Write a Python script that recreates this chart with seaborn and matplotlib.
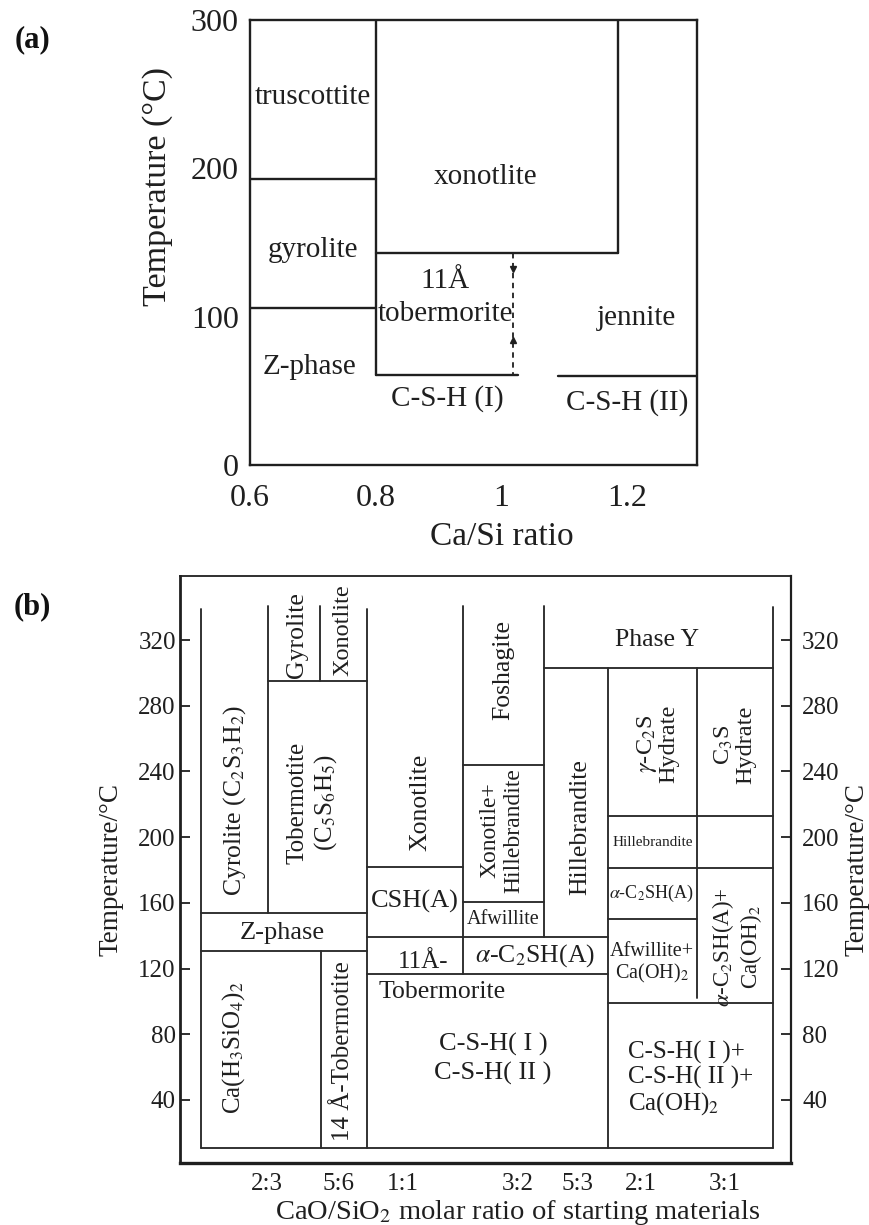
import numpy as np
import pandas as pd
import matplotlib
matplotlib.use("Agg")
import matplotlib.pyplot as plt
import seaborn as sns

sns.set_theme(style="white")
plt.rcParams["font.family"] = ["Liberation Serif", "DejaVu Serif"]
plt.rcParams["mathtext.fontset"] = "stix"
INK = "#1f1f1f"

# ---------------- (a) Ca/Si ratio vs temperature ----------------
a_xticks = [0.6, 0.8, 1.0, 1.2]
a_xticklabels = ["0.6", "0.8", "1", "1.2"]
a_yticks = [0, 100, 200, 300]

# phase boundaries: segment from (x0, T0) to (x1, T1)
a_x0 = [0.800, 0.600, 0.600, 0.800, 1.185, 0.800, 1.089]
a_x1 = [0.800, 0.800, 0.800, 1.185, 1.185, 1.026, 1.310]
a_t0 = [300, 193, 106, 143, 143, 61, 60]
a_t1 = [61, 193, 106, 143, 300, 61, 60]
# uncertain tobermorite / jennite boundary
a_dash_x = [1.018, 1.018]
a_dash_t = [143, 61]

a_names = ["truscottite", "xonotlite", "gyrolite", "11Å\ntobermorite",
           "jennite", "Z-phase", "C-S-H (I)", "C-S-H (II)"]
a_name_x = [0.700, 0.975, 0.700, 0.910, 1.215, 0.695, 0.913, 1.200]
a_name_t = [248, 194, 145, 113, 99, 66, 45, 42]

# ---------------- (b) CaO/SiO2 molar ratio vs temperature ----------------
b_tick_pos = [14.2, 25.9, 36.4, 55.3, 65.1, 75.5, 89.2]
b_tick_labels = ["2:3", "5:6", "1:1", "3:2", "5:3", "2:1", "3:1"]
b_yticks = [40, 80, 120, 160, 200, 240, 280, 320]

# vertical boundaries: x, T_bottom, T_top
b_vx = [3.44, 14.45, 22.9, 30.6, 46.3, 59.5, 70.1, 84.6, 97.1, 23.0]
b_vlo = [10.8, 153.8, 295, 10.8, 116.7, 139, 10.8, 102, 10.8, 10.8]
b_vhi = [339, 341, 341, 339, 341, 341, 303, 303, 340, 130.9]
# horizontal boundaries: T, x_left, x_right
b_ht = [295, 182, 153.8, 130.9, 139, 116.7, 160.7, 243.9, 303, 212.8,
        181.4, 150, 98.8, 10.8]
b_hx0 = [14.45, 30.6, 3.44, 3.44, 30.6, 30.6, 46.3, 46.3, 59.5, 70.1,
         70.1, 70.1, 70.1, 3.44]
b_hx1 = [30.6, 46.3, 30.6, 30.6, 70.1, 70.1, 59.5, 59.5, 97.1, 97.1,
         97.1, 84.6, 97.1, 97.1]

b_names = [
    "Cyrolite (C$_2$S$_3$H$_2$)",
    "Tobermotite\n(C$_5$S$_6$H$_5$)",
    "Gyrolite",
    "Xonotlite",
    "Xonotlite",
    "CSH(A)",
    "Z-phase",
    "11Å-",
    "Tobermorite",
    "Ca(H$_3$SiO$_4$)$_2$",
    "14 Å-Tobermotite",
    "C-S-H( I )\nC-S-H( II )",
    "Foshagite",
    "Xonotile+\nHillebrandite",
    "Afwillite",
    r"$\alpha$-C$_2$SH(A)",
    "Hillebrandite",
    "Phase Y",
    r"$\gamma$-C$_2$S" + "\nHydrate",
    "C$_3$S\nHydrate",
    "Hillebrandite",
    r"$\alpha$-C$_2$SH(A)",
    "Afwillite+\nCa(OH)$_2$",
    r"$\alpha$-C$_2$SH(A)+" + "\nCa(OH)$_2$",
    "C-S-H( I )+\nC-S-H( II )+\nCa(OH)$_2$",
]
b_name_x = [9.0, 21.7, 19.1, 26.7, 39.3, 38.5, 16.8, 39.8, 42.9, 8.7, 26.7,
            51.2, 52.9, 52.7, 52.9, 58.1, 65.5, 78.0, 78.1, 90.7, 77.4, 77.2,
            77.2, 91.2, 83.5]
b_name_t = [222, 221, 323, 326, 221, 160.7, 141.6, 124, 106, 72, 70,
            65, 301.7, 204, 149.6, 128, 206, 320, 257, 256, 197, 166,
            123, 133, 52.7]
# text styling: (rotation, size, linespacing, multialignment)
b_style = [
    (90, 18.5, 1.2, "center"), (90, 18, 1.2, "center"), (90, 18.5, 1.2, "center"),
    (90, 17.5, 1.2, "center"), (90, 18.5, 1.2, "center"), (0, 19, 1.2, "center"),
    (0, 19, 1.2, "center"), (0, 18, 1.2, "center"), (0, 18.5, 1.2, "center"),
    (90, 18, 1.2, "center"), (90, 18, 1.2, "center"), (0, 19, 1.3, "center"),
    (90, 18.5, 1.2, "center"), (90, 17, 1.15, "center"), (0, 14.5, 1.2, "center"),
    (0, 18.5, 1.2, "center"), (90, 18.5, 1.2, "center"), (0, 18.5, 1.2, "center"),
    (90, 17.5, 1.0, "center"), (90, 17.5, 1.0, "center"), (0, 11, 1.2, "center"),
    (0, 13, 1.2, "center"), (0, 14.5, 1.05, "center"), (90, 16.5, 1.1, "center"),
    (0, 18, 1.1, "left"),
]


def segments(x0, x1, t0, t1):
    rows = []
    for i, (a, b, c, d) in enumerate(zip(x0, x1, t0, t1)):
        rows.append((i, a, c))
        rows.append((i, b, d))
    return pd.DataFrame(rows, columns=["seg", "x", "T"])


fig = plt.figure(figsize=(8.69, 12.25), dpi=100)

# ======================= panel (a) =======================
axa = fig.add_axes([250 / 869, 1 - 465 / 1225, 446.7 / 869, 445 / 1225])
seg_a = segments(a_x0, a_x1, a_t0, a_t1)
sns.lineplot(data=seg_a, x="x", y="T", units="seg", estimator=None, sort=False,
             color=INK, lw=1.7, ax=axa, legend=False)
dash_a = pd.DataFrame({"x": a_dash_x, "T": a_dash_t})
sns.lineplot(data=dash_a, x="x", y="T", estimator=None, sort=False,
             color=INK, lw=1.3, ls=(0, (3, 2.5)), ax=axa, legend=False)
axa.plot([a_dash_x[0]], [a_dash_t[0] - 11], marker="v", ms=4, color=INK)
axa.plot([a_dash_x[1]], [a_dash_t[1] + 23], marker="^", ms=4, color=INK)

axa.set_xlim(0.6, 1.31)
axa.set_ylim(0, 300)
axa.set_xticks(a_xticks)
axa.set_xticklabels(a_xticklabels)
axa.set_yticks(a_yticks)
axa.tick_params(direction="inout", length=8, width=1.3, labelsize=23,
                colors=INK)
axa.tick_params(axis="x", pad=10)
axa.tick_params(axis="y", pad=4)
for s in axa.spines.values():
    s.set_color(INK)
    s.set_linewidth(1.7)
axa.set_xlabel("Ca/Si ratio", fontsize=24, color=INK)
axa.set_ylabel("Temperature (°C)", fontsize=24.5, color=INK)
axa.xaxis.set_label_coords(0.564, -0.128)
axa.yaxis.set_label_coords(-0.172, 0.625)
for name, x, t in zip(a_names, a_name_x, a_name_t):
    axa.text(x, t, name, ha="center", va="center", fontsize=21, color=INK,
             linespacing=1.35)

# ======================= panel (b) =======================
axb = fig.add_axes([180 / 869, 1 - 1163 / 1225, 611 / 869, 587 / 1225])
vert = segments(b_vx, b_vx, b_vlo, b_vhi)
horz = segments(b_hx0, b_hx1, b_ht, b_ht)
horz["seg"] += len(b_vx)
sns.lineplot(data=pd.concat([vert, horz]), x="x", y="T", units="seg",
             estimator=None, sort=False, color="#2a2a2a", lw=1.35, ax=axb,
             legend=False)
axb.set_xlim(0, 100)
axb.set_ylim(1.6, 359)
axb.set_xticks(b_tick_pos)
axb.set_xticklabels(b_tick_labels)
axb.set_yticks(b_yticks)
axb.tick_params(axis="both", direction="in", length=7, width=1.3,
                labelsize=18, colors=INK)
axb.tick_params(axis="x", pad=7)
axb.tick_params(axis="y", pad=3)
for side, w in {"left": 2.0, "bottom": 2.4, "top": 1.3, "right": 1.6}.items():
    axb.spines[side].set_color(INK)
    axb.spines[side].set_linewidth(w)
axb.set_xlabel("CaO/SiO$_2$ molar ratio of starting materials", fontsize=20.5,
               color=INK)
axb.xaxis.set_label_coords(0.553, -0.06)
axb.set_ylabel("Temperature/°C", fontsize=19.5, color=INK)
axb.yaxis.set_label_coords(-0.093, 0.5)

axr = axb.twinx()
axr.set_ylim(axb.get_ylim())
axr.set_yticks(b_yticks)
axr.tick_params(axis="y", direction="in", length=7, width=1.3, labelsize=18,
                colors=INK, pad=8)
for s in axr.spines.values():
    s.set_visible(False)
axr.set_ylabel("Temperature/°C", fontsize=19.5, color=INK, rotation=90)
axr.yaxis.set_label_coords(1.088, 0.5)
axr.grid(False)

for name, x, t, (rot, size, ls, ma) in zip(b_names, b_name_x, b_name_t, b_style):
    axb.text(x, t, name, ha="center", va="center", rotation=rot, fontsize=size,
             color=INK, linespacing=ls, multialignment=ma,
             rotation_mode="anchor")

fig.text(32 / 869, 1 - 40 / 1225, "(a)", fontsize=22, fontweight="bold",
         ha="center", va="center", color="#111111")
fig.text(32 / 869, 1 - 607 / 1225, "(b)", fontsize=22, fontweight="bold",
         ha="center", va="center", color="#111111")

fig.savefig("out.png", dpi=100, facecolor="white")
